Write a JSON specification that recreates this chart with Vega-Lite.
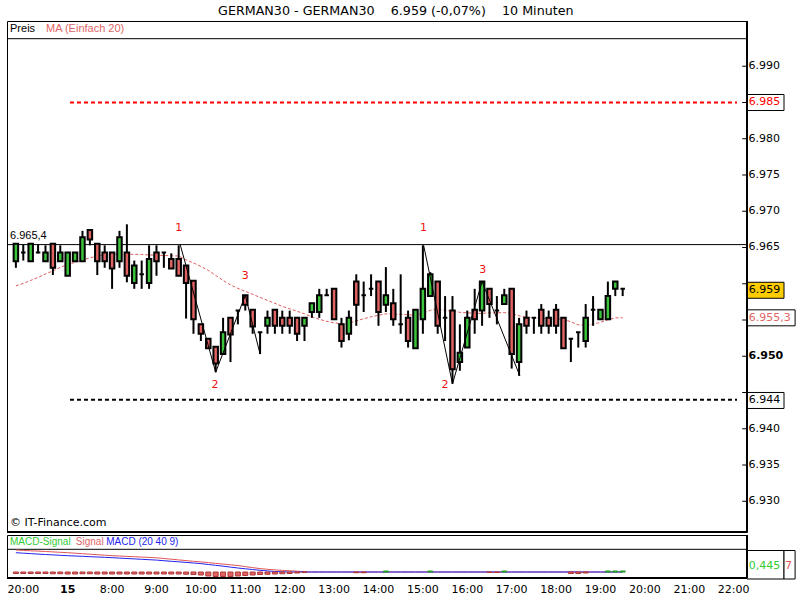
{
  "$schema": "https://vega.github.io/schema/vega-lite/v6.json",
  "padding": {"left": 5, "top": 4, "right": 0, "bottom": 0},
  "background": "white",
  "title": {"text": "GERMAN30 - GERMAN30\u00a0\u00a0\u00a0\u00a06.959 (-0,07%)\u00a0\u00a0\u00a0\u00a010 Minuten", "font": "DejaVu Sans", "fontSize": 12.7, "fontWeight": "normal", "anchor": "middle", "offset": 2, "dx": -5, "color": "black"},
  "datasets": {
    "candles": [
      {"i":0,"o":6963.1,"h":6965.5,"l":6962.2,"c":6965.5,"ma":6959.7},
      {"i":1,"o":6964.3,"h":6965.4,"l":6963.2,"c":6964.3,"ma":6960.05},
      {"i":2,"o":6963.1,"h":6965.5,"l":6963.1,"c":6965.5,"ma":6960.46},
      {"i":3,"o":6964.3,"h":6965.4,"l":6964.2,"c":6964.3,"ma":6960.87},
      {"i":4,"o":6963.1,"h":6965.3,"l":6963.1,"c":6964.3,"ma":6961.35},
      {"i":5,"o":6965.5,"h":6965.5,"l":6961.2,"c":6962.2,"ma":6961.77},
      {"i":6,"o":6963.1,"h":6965.3,"l":6963.1,"c":6964.3,"ma":6962.25},
      {"i":7,"o":6961.1,"h":6964.3,"l":6961.1,"c":6964.3,"ma":6962.66},
      {"i":8,"o":6963.1,"h":6964.3,"l":6963.1,"c":6964.3,"ma":6962.94},
      {"i":9,"o":6963.1,"h":6967.3,"l":6963.1,"c":6966.4,"ma":6963.28},
      {"i":10,"o":6967.4,"h":6967.4,"l":6965.3,"c":6966.1,"ma":6963.56},
      {"i":11,"o":6965.5,"h":6965.5,"l":6961.2,"c":6963.1,"ma":6963.83},
      {"i":12,"o":6964.3,"h":6965.3,"l":6962.2,"c":6963.1,"ma":6963.97},
      {"i":13,"o":6964.3,"h":6964.3,"l":6959.3,"c":6962.1,"ma":6964.06},
      {"i":14,"o":6963.1,"h":6967.3,"l":6962.2,"c":6966.4,"ma":6964.06},
      {"i":15,"o":6964.3,"h":6968.2,"l":6960.2,"c":6961.1,"ma":6964.06},
      {"i":16,"o":6960.1,"h":6963.2,"l":6959.3,"c":6962.5,"ma":6964.06},
      {"i":17,"o":6961.3,"h":6963.2,"l":6959.3,"c":6961.3,"ma":6964.04},
      {"i":18,"o":6960.1,"h":6965.3,"l":6959.3,"c":6963.4,"ma":6963.97},
      {"i":19,"o":6964.3,"h":6965.3,"l":6961.1,"c":6963.1,"ma":6963.93},
      {"i":20,"o":6964.3,"h":6964.3,"l":6962.2,"c":6964.3,"ma":6963.9},
      {"i":21,"o":6963.4,"h":6964.2,"l":6962.1,"c":6962.1,"ma":6963.86},
      {"i":22,"o":6963.4,"h":6965.3,"l":6961.1,"c":6961.1,"ma":6963.83},
      {"i":23,"o":6962.5,"h":6962.5,"l":6955.2,"c":6960.1,"ma":6963.28},
      {"i":24,"o":6960.4,"h":6960.4,"l":6953.1,"c":6955.1,"ma":6962.87},
      {"i":25,"o":6954.4,"h":6954.4,"l":6952.1,"c":6953.1,"ma":6962.39},
      {"i":26,"o":6952.4,"h":6952.4,"l":6951.1,"c":6951.1,"ma":6961.84},
      {"i":27,"o":6951.3,"h":6951.3,"l":6947.8,"c":6949.0,"ma":6961.15},
      {"i":28,"o":6950.3,"h":6955.3,"l":6950.3,"c":6953.3,"ma":6960.46},
      {"i":29,"o":6955.3,"h":6955.3,"l":6949.2,"c":6953.0,"ma":6959.84},
      {"i":30,"o":6956.3,"h":6956.3,"l":6954.4,"c":6956.3,"ma":6959.36},
      {"i":31,"o":6958.4,"h":6958.4,"l":6956.3,"c":6957.1,"ma":6958.95},
      {"i":32,"o":6956.4,"h":6956.4,"l":6953.1,"c":6954.1,"ma":6958.54},
      {"i":33,"o":6953.3,"h":6953.3,"l":6950.3,"c":6953.3,"ma":6958.12},
      {"i":34,"o":6954.2,"h":6956.3,"l":6953.1,"c":6955.3,"ma":6957.71},
      {"i":35,"o":6956.4,"h":6956.4,"l":6953.1,"c":6954.2,"ma":6957.3},
      {"i":36,"o":6955.3,"h":6956.3,"l":6953.1,"c":6954.2,"ma":6956.88},
      {"i":37,"o":6955.3,"h":6956.3,"l":6953.1,"c":6954.2,"ma":6956.54},
      {"i":38,"o":6955.3,"h":6955.3,"l":6952.1,"c":6953.1,"ma":6956.2},
      {"i":39,"o":6954.2,"h":6955.3,"l":6952.1,"c":6955.3,"ma":6955.85},
      {"i":40,"o":6956.1,"h":6957.3,"l":6955.3,"c":6957.3,"ma":6955.44},
      {"i":41,"o":6956.1,"h":6959.3,"l":6955.3,"c":6958.4,"ma":6955.1},
      {"i":42,"o":6958.4,"h":6959.3,"l":6958.4,"c":6958.4,"ma":6954.82},
      {"i":43,"o":6959.3,"h":6959.3,"l":6955.1,"c":6955.1,"ma":6954.61},
      {"i":44,"o":6954.4,"h":6955.3,"l":6951.2,"c":6952.1,"ma":6954.48},
      {"i":45,"o":6953.1,"h":6956.3,"l":6952.2,"c":6955.3,"ma":6954.55},
      {"i":46,"o":6960.3,"h":6961.3,"l":6954.2,"c":6957.1,"ma":6954.89},
      {"i":47,"o":6958.4,"h":6960.3,"l":6956.1,"c":6958.4,"ma":6955.17},
      {"i":48,"o":6959.3,"h":6961.3,"l":6958.3,"c":6959.3,"ma":6955.44},
      {"i":49,"o":6960.3,"h":6960.3,"l":6954.2,"c":6956.1,"ma":6955.65},
      {"i":50,"o":6957.1,"h":6962.3,"l":6956.1,"c":6958.4,"ma":6955.85},
      {"i":51,"o":6957.3,"h":6959.3,"l":6954.2,"c":6955.1,"ma":6955.85},
      {"i":52,"o":6954.4,"h":6961.3,"l":6953.1,"c":6954.4,"ma":6955.78},
      {"i":53,"o":6955.3,"h":6956.3,"l":6951.2,"c":6952.1,"ma":6955.72},
      {"i":54,"o":6951.1,"h":6956.4,"l":6951.1,"c":6956.4,"ma":6955.65},
      {"i":55,"o":6955.1,"h":6965.3,"l":6953.1,"c":6959.3,"ma":6955.92},
      {"i":56,"o":6958.3,"h":6961.6,"l":6958.3,"c":6961.3,"ma":6956.33},
      {"i":57,"o":6960.3,"h":6960.3,"l":6953.1,"c":6954.2,"ma":6956.47},
      {"i":58,"o":6955.3,"h":6958.3,"l":6952.1,"c":6955.3,"ma":6956.33},
      {"i":59,"o":6956.3,"h":6958.3,"l":6946.2,"c":6948.2,"ma":6956.2},
      {"i":60,"o":6949.2,"h":6954.4,"l":6948.0,"c":6950.5,"ma":6956.06},
      {"i":61,"o":6951.2,"h":6956.3,"l":6951.2,"c":6955.3,"ma":6955.99},
      {"i":62,"o":6956.4,"h":6959.3,"l":6953.1,"c":6955.1,"ma":6955.92},
      {"i":63,"o":6956.3,"h":6960.3,"l":6954.2,"c":6960.3,"ma":6955.92},
      {"i":64,"o":6959.3,"h":6959.3,"l":6955.3,"c":6957.2,"ma":6955.99},
      {"i":65,"o":6956.3,"h":6958.3,"l":6954.4,"c":6956.3,"ma":6955.99},
      {"i":66,"o":6957.2,"h":6959.3,"l":6957.2,"c":6958.4,"ma":6956.02},
      {"i":67,"o":6959.3,"h":6959.3,"l":6948.3,"c":6950.3,"ma":6955.92},
      {"i":68,"o":6949.2,"h":6955.3,"l":6947.3,"c":6954.4,"ma":6955.58},
      {"i":69,"o":6955.3,"h":6956.3,"l":6953.1,"c":6954.2,"ma":6955.37},
      {"i":70,"o":6955.3,"h":6955.3,"l":6953.1,"c":6955.3,"ma":6955.3},
      {"i":71,"o":6956.4,"h":6957.2,"l":6953.1,"c":6954.2,"ma":6955.23},
      {"i":72,"o":6955.3,"h":6956.3,"l":6953.1,"c":6954.2,"ma":6955.17},
      {"i":73,"o":6956.4,"h":6957.2,"l":6953.1,"c":6954.2,"ma":6955.17},
      {"i":74,"o":6955.3,"h":6955.3,"l":6951.1,"c":6951.1,"ma":6955.1},
      {"i":75,"o":6952.4,"h":6952.4,"l":6949.2,"c":6952.4,"ma":6954.75},
      {"i":76,"o":6953.3,"h":6953.3,"l":6951.2,"c":6953.3,"ma":6954.34},
      {"i":77,"o":6952.1,"h":6957.2,"l":6951.2,"c":6955.3,"ma":6954.27},
      {"i":78,"o":6956.4,"h":6958.3,"l":6954.2,"c":6956.4,"ma":6954.41},
      {"i":79,"o":6955.1,"h":6956.4,"l":6955.1,"c":6956.4,"ma":6954.68},
      {"i":80,"o":6955.1,"h":6960.3,"l":6955.1,"c":6958.3,"ma":6955.03},
      {"i":81,"o":6959.3,"h":6960.3,"l":6958.3,"c":6960.3,"ma":6955.3},
      {"i":82,"o":6959.3,"h":6959.3,"l":6958.3,"c":6959.3,"ma":6955.3}
    ],
    "macd": [
      {"i":0,"macd":3.86,"sig":4.4,"hist":-0.3},
      {"i":1,"macd":3.76,"sig":4.32,"hist":-0.3},
      {"i":2,"macd":3.68,"sig":4.24,"hist":-0.3},
      {"i":3,"macd":3.58,"sig":4.18,"hist":-0.3},
      {"i":4,"macd":3.5,"sig":4.1,"hist":-0.3},
      {"i":5,"macd":3.42,"sig":4.02,"hist":-0.35},
      {"i":6,"macd":3.34,"sig":3.94,"hist":-0.35},
      {"i":7,"macd":3.26,"sig":3.86,"hist":-0.4},
      {"i":8,"macd":3.2,"sig":3.76,"hist":-0.4},
      {"i":9,"macd":3.14,"sig":3.66,"hist":-0.35},
      {"i":10,"macd":3.06,"sig":3.56,"hist":-0.35},
      {"i":11,"macd":3.0,"sig":3.46,"hist":-0.4},
      {"i":12,"macd":2.94,"sig":3.36,"hist":-0.4},
      {"i":13,"macd":2.86,"sig":3.26,"hist":-0.4},
      {"i":14,"macd":2.78,"sig":3.2,"hist":-0.4},
      {"i":15,"macd":2.7,"sig":3.12,"hist":-0.4},
      {"i":16,"macd":2.62,"sig":3.06,"hist":-0.4},
      {"i":17,"macd":2.54,"sig":2.98,"hist":-0.4},
      {"i":18,"macd":2.46,"sig":2.92,"hist":-0.4},
      {"i":19,"macd":2.38,"sig":2.84,"hist":-0.4},
      {"i":20,"macd":2.26,"sig":2.7,"hist":-0.4},
      {"i":21,"macd":2.14,"sig":2.56,"hist":-0.4},
      {"i":22,"macd":2.04,"sig":2.42,"hist":-0.4},
      {"i":23,"macd":1.92,"sig":2.28,"hist":-0.45},
      {"i":24,"macd":1.8,"sig":2.14,"hist":-0.5},
      {"i":25,"macd":1.68,"sig":2.02,"hist":-0.6},
      {"i":26,"macd":1.5,"sig":1.88,"hist":-0.8},
      {"i":27,"macd":1.34,"sig":1.72,"hist":-0.9},
      {"i":28,"macd":1.16,"sig":1.58,"hist":-0.9},
      {"i":29,"macd":0.98,"sig":1.44,"hist":-0.9},
      {"i":30,"macd":0.8,"sig":1.3,"hist":-0.8},
      {"i":31,"macd":0.64,"sig":1.08,"hist":-0.7},
      {"i":32,"macd":0.5,"sig":0.88,"hist":-0.6},
      {"i":33,"macd":0.34,"sig":0.68,"hist":-0.5},
      {"i":34,"macd":0.22,"sig":0.54,"hist":-0.45},
      {"i":35,"macd":0.1,"sig":0.42,"hist":-0.4},
      {"i":36,"macd":0.04,"sig":0.32,"hist":-0.35},
      {"i":37,"macd":0.0,"sig":0.26,"hist":-0.3},
      {"i":38,"macd":0.0,"sig":0.16,"hist":-0.2},
      {"i":39,"macd":0.0,"sig":0.06,"hist":-0.1},
      {"i":40,"macd":0.0,"sig":0.0,"hist":0},
      {"i":41,"macd":0.0,"sig":0.0,"hist":0},
      {"i":42,"macd":0.0,"sig":0.0,"hist":0},
      {"i":43,"macd":0.0,"sig":0.0,"hist":0},
      {"i":44,"macd":0.0,"sig":0.0,"hist":0},
      {"i":45,"macd":0.0,"sig":0.0,"hist":0},
      {"i":46,"macd":0.0,"sig":0.0,"hist":-0.15},
      {"i":47,"macd":0.0,"sig":0.0,"hist":-0.15},
      {"i":48,"macd":0.0,"sig":0.0,"hist":0},
      {"i":49,"macd":0.0,"sig":0.0,"hist":0},
      {"i":50,"macd":0.0,"sig":0.0,"hist":0.2},
      {"i":51,"macd":0.0,"sig":0.0,"hist":0},
      {"i":52,"macd":0.0,"sig":0.0,"hist":0},
      {"i":53,"macd":0.0,"sig":0.0,"hist":0},
      {"i":54,"macd":0.0,"sig":0.0,"hist":0},
      {"i":55,"macd":0.0,"sig":0.0,"hist":0},
      {"i":56,"macd":0.0,"sig":0.0,"hist":0.2},
      {"i":57,"macd":0.0,"sig":0.0,"hist":0},
      {"i":58,"macd":0.0,"sig":0.0,"hist":0},
      {"i":59,"macd":0.0,"sig":0.0,"hist":0},
      {"i":60,"macd":0.0,"sig":0.0,"hist":0},
      {"i":61,"macd":0.0,"sig":0.0,"hist":0},
      {"i":62,"macd":0.0,"sig":0.0,"hist":0},
      {"i":63,"macd":0.0,"sig":0.0,"hist":0},
      {"i":64,"macd":0.0,"sig":0.0,"hist":-0.1},
      {"i":65,"macd":0.0,"sig":0.0,"hist":-0.1},
      {"i":66,"macd":0.0,"sig":0.0,"hist":0.2},
      {"i":67,"macd":0.0,"sig":0.0,"hist":0},
      {"i":68,"macd":0.0,"sig":0.0,"hist":0},
      {"i":69,"macd":0.0,"sig":0.0,"hist":0},
      {"i":70,"macd":0.0,"sig":0.0,"hist":0},
      {"i":71,"macd":0.0,"sig":0.0,"hist":0},
      {"i":72,"macd":0.0,"sig":0.0,"hist":0},
      {"i":73,"macd":0.0,"sig":0.0,"hist":0},
      {"i":74,"macd":0.0,"sig":0.0,"hist":0},
      {"i":75,"macd":0.0,"sig":0.0,"hist":-0.3},
      {"i":76,"macd":0.0,"sig":0.0,"hist":-0.3},
      {"i":77,"macd":0.0,"sig":0.0,"hist":-0.2},
      {"i":78,"macd":0.0,"sig":0.0,"hist":0},
      {"i":79,"macd":0.0,"sig":0.0,"hist":0},
      {"i":80,"macd":0.0,"sig":0.0,"hist":0.2},
      {"i":81,"macd":0.0,"sig":0.0,"hist":0.2},
      {"i":82,"macd":0.0,"sig":0.0,"hist":0.2}
    ],
    "waves": [
      {"w":"A","i":22.2,"p":6965.4},{"w":"A","i":27.0,"p":6947.8},{"w":"A","i":31.0,"p":6958.4},{"w":"A","i":33.0,"p":6950.3},
      {"w":"B","i":55.1,"p":6965.3},{"w":"B","i":59.0,"p":6946.2},{"w":"B","i":63.0,"p":6960.3},{"w":"B","i":68.1,"p":6947.3}
    ],
    "wlabels": [
      {"t":"1","i":22.0,"p":6967.7},{"t":"2","i":26.9,"p":6946.1},{"t":"3","i":31.0,"p":6961.1},
      {"t":"1","i":55.1,"p":6967.7},{"t":"2","i":58.0,"p":6946.1},{"t":"3","i":63.1,"p":6961.9}
    ],
    "tags": [
      {"label":"6.985","p":6985,"kind":"target"},
      {"label":"6.959","p":6959.1,"kind":"last"},
      {"label":"6.944","p":6943.9,"kind":"stop"}
    ],
    "yticks": [
      {"p":6930,"label":"6.930"},{"p":6935,"label":"6.935"},{"p":6940,"label":"6.940"},{"p":6945,"label":"6.945"},
      {"p":6950,"label":"6.950"},{"p":6955,"label":"6.955"},{"p":6960,"label":"6.960"},{"p":6965,"label":"6.965"},
      {"p":6970,"label":"6.970"},{"p":6975,"label":"6.975"},{"p":6980,"label":"6.980"},{"p":6985,"label":"6.985"},{"p":6990,"label":"6.990"}
    ],
    "xticks": [
      {"i":1,"label":"20:00"},{"i":7,"label":"15"},{"i":13,"label":"8:00"},{"i":19,"label":"9:00"},{"i":25,"label":"10:00"},
      {"i":31,"label":"11:00"},{"i":37,"label":"12:00"},{"i":43,"label":"13:00"},{"i":49,"label":"14:00"},{"i":55,"label":"15:00"},
      {"i":61,"label":"16:00"},{"i":67,"label":"17:00"},{"i":73,"label":"18:00"},{"i":79,"label":"19:00"},{"i":85,"label":"20:00"},
      {"i":91,"label":"21:00"},{"i":97,"label":"22:00"}
    ]
  },
  "spacing": -1,
  "resolve": {"scale": {"x": "independent", "y": "independent"}},
  "vconcat": [
    {
      "width": 740,
      "height": 511,
      "layer": [
        {
          "data": {"values": [{"p": 6993.8}, {"p": 6965.4}]},
          "mark": {"type": "rule", "color": "black", "strokeWidth": 1},
          "encoding": {
            "y": {"field": "p", "type": "quantitative",
                  "scale": {"domain": [6925.76, 6996.24], "nice": false, "zero": false, "padding": 0}, "axis": null}
          }
        },
        {
          "data": {"name": "yticks"},
          "mark": {"type": "rule", "color": "black", "strokeWidth": 1},
          "encoding": {
            "x": {"datum": 98.15, "type": "quantitative", "axis": null},
            "x2": {"datum": 98.8},
            "y": {"field": "p", "type": "quantitative", "axis": null}
          }
        },
        {
          "data": {"name": "yticks"},
          "transform": [{"filter": "datum.p != 6950 && datum.p != 6945 && datum.p != 6955 && datum.p != 6960"}],
          "mark": {"type": "text", "color": "black", "font": "DejaVu Sans", "fontSize": 11, "align": "left", "baseline": "middle"},
          "encoding": {
            "x": {"datum": 99.0, "type": "quantitative", "axis": null},
            "y": {"field": "p", "type": "quantitative", "axis": null},
            "text": {"field": "label"}
          }
        },
        {
          "data": {"name": "yticks"},
          "transform": [{"filter": "datum.p == 6950"}],
          "mark": {"type": "text", "color": "black", "font": "DejaVu Sans", "fontSize": 11, "fontWeight": "bold", "align": "left", "baseline": "middle"},
          "encoding": {"x": {"datum": 99.0, "axis": null}, "y": {"field": "p", "type": "quantitative", "axis": null}, "text": {"field": "label"}}
        },
        {
          "data": {"values": [{"p": 6985, "kind": "target"}, {"p": 6944, "kind": "stop"}]},
          "mark": {"type": "rule", "strokeWidth": 2, "strokeDash": [4, 3]},
          "encoding": {
            "x": {"datum": 7.31, "type": "quantitative", "axis": null},
            "x2": {"datum": 97.45},
            "y": {"field": "p", "type": "quantitative", "axis": null},
            "color": {"field": "kind", "type": "nominal", "scale": {"domain": ["target", "last", "stop"], "range": ["#ff0000", "#000000", "#000000"]}, "legend": null}
          }
        },
        {
          "data": {"name": "candles"},
          "mark": {"type": "line", "color": "#e05a5a", "strokeWidth": 1, "strokeDash": [3, 2]},
          "encoding": {
            "x": {"field": "i", "type": "quantitative", "scale": {"domain": [-1.2, 98.8], "nice": false, "zero": false, "padding": 0}, "axis": null},
            "y": {"field": "ma", "type": "quantitative", "axis": null}
          }
        },
        {
          "data": {"name": "candles"},
          "mark": {"type": "rule", "color": "black", "strokeWidth": 2},
          "encoding": {
            "x": {"field": "i", "type": "quantitative", "axis": null},
            "y": {"field": "l", "type": "quantitative", "axis": null},
            "y2": {"field": "h"}
          }
        },
        {
          "data": {"name": "candles"},
          "mark": {"type": "bar", "orient": "vertical", "size": 4.5, "stroke": "black", "strokeWidth": 2},
          "encoding": {
            "x": {"field": "i", "type": "quantitative", "axis": null},
            "y": {"field": "o", "type": "quantitative", "axis": null},
            "y2": {"field": "c"},
            "fill": {"condition": {"test": "datum.c > datum.o", "value": "#3cc43c"}, "value": "#e06262"}
          }
        },
        {
          "data": {"name": "waves"},
          "mark": {"type": "line", "color": "black", "strokeWidth": 1},
          "encoding": {
            "x": {"field": "i", "type": "quantitative", "axis": null},
            "y": {"field": "p", "type": "quantitative", "axis": null},
            "detail": {"field": "w"}
          }
        },
        {
          "data": {"name": "wlabels"},
          "mark": {"type": "text", "color": "#ee1111", "font": "DejaVu Sans", "fontSize": 11, "baseline": "middle", "align": "center"},
          "encoding": {
            "x": {"field": "i", "type": "quantitative", "axis": null},
            "y": {"field": "p", "type": "quantitative", "axis": null},
            "text": {"field": "t"}
          }
        },
        {
          "data": {"values": [{"label": "Preis"}]},
          "mark": {"type": "text", "color": "black", "font": "Liberation Sans", "fontSize": 11, "align": "left", "baseline": "middle"},
          "encoding": {"x": {"datum": -0.79, "axis": null}, "y": {"datum": 6995.07, "axis": null}, "text": {"field": "label"}}
        },
        {
          "data": {"values": [{"label": "MA (Einfach 20)"}]},
          "mark": {"type": "text", "color": "#e06666", "font": "Liberation Sans", "fontSize": 11, "align": "left", "baseline": "middle"},
          "encoding": {"x": {"datum": 4.07, "axis": null}, "y": {"datum": 6995.07, "axis": null}, "text": {"field": "label"}}
        },
        {
          "data": {"values": [{"label": "6.965,4"}]},
          "mark": {"type": "text", "color": "black", "font": "Liberation Sans", "fontSize": 11, "align": "left", "baseline": "middle"},
          "encoding": {"x": {"datum": -0.79, "axis": null}, "y": {"datum": 6966.6, "axis": null}, "text": {"field": "label"}}
        },
        {
          "data": {"values": [{"label": "© IT-Finance.com"}]},
          "mark": {"type": "text", "color": "black", "font": "DejaVu Sans", "fontSize": 11, "align": "left", "baseline": "middle"},
          "encoding": {"x": {"datum": -0.79, "axis": null}, "y": {"datum": 6927.0, "axis": null}, "text": {"field": "label"}}
        },
        {
          "data": {"name": "tags"},
          "mark": {"type": "bar", "orient": "horizontal", "size": 16, "stroke": "black", "strokeWidth": 1},
          "encoding": {
            "x": {"datum": 98.8, "axis": null},
            "x2": {"datum": 103.8},
            "y": {"field": "p", "type": "quantitative", "axis": null},
            "fill": {"field": "kind", "type": "nominal", "scale": {"domain": ["target", "last", "stop"], "range": ["#ffffff", "#ffcc00", "#ffffff"]}, "legend": null}
          }
        },
        {
          "data": {"values": [{"label": "6.955,3", "p": 6955.3}]},
          "mark": {"type": "bar", "orient": "horizontal", "size": 16, "stroke": "black", "strokeWidth": 1, "fill": "white"},
          "encoding": {
            "x": {"datum": 98.8, "axis": null},
            "x2": {"datum": 105.3},
            "y": {"field": "p", "type": "quantitative", "axis": null}
          }
        },
        {
          "data": {"name": "tags"},
          "mark": {"type": "text", "font": "DejaVu Sans", "fontSize": 11, "align": "left", "baseline": "middle"},
          "encoding": {
            "x": {"datum": 99.05, "axis": null},
            "y": {"field": "p", "type": "quantitative", "axis": null},
            "text": {"field": "label"},
            "color": {"field": "kind", "type": "nominal", "scale": {"domain": ["target", "last", "stop"], "range": ["#ff0000", "#000000", "#000000"]}, "legend": null}
          }
        },
        {
          "data": {"values": [{"label": "6.955,3", "p": 6955.3}]},
          "mark": {"type": "text", "font": "DejaVu Sans", "fontSize": 11, "align": "left", "baseline": "middle", "color": "#e06666"},
          "encoding": {
            "x": {"datum": 99.05, "axis": null},
            "y": {"field": "p", "type": "quantitative", "axis": null},
            "text": {"field": "label"}
          }
        },
        {
          "data": {"values": [{"edge": "right"}]},
          "mark": {"type": "rule", "color": "black", "strokeWidth": 2},
          "encoding": {"x": {"datum": 98.8, "axis": null}}
        },
        {
          "data": {"values": [{"edge": "bottom"}]},
          "mark": {"type": "rule", "color": "black", "strokeWidth": 2},
          "encoding": {"y": {"datum": 6925.76, "axis": null}}
        }
      ]
    },
    {
      "width": 740,
      "height": 43,
      "layer": [
        {
          "data": {"values": [{"v": 4.54}]},
          "mark": {"type": "rule", "color": "black", "strokeWidth": 1},
          "encoding": {
            "y": {"field": "v", "type": "quantitative", "scale": {"domain": [-1.2, 7.4], "nice": false, "zero": false, "padding": 0}, "axis": null}
          }
        },
        {
          "data": {"name": "macd"},
          "mark": {"type": "line", "color": "#e05555", "strokeWidth": 1},
          "encoding": {
            "x": {"field": "i", "type": "quantitative", "scale": {"domain": [-1.2, 98.8], "nice": false, "zero": false, "padding": 0}, "axis": null},
            "y": {"field": "sig", "type": "quantitative", "axis": null}
          }
        },
        {
          "data": {"name": "macd"},
          "mark": {"type": "line", "color": "#2222ee", "strokeWidth": 1},
          "encoding": {
            "x": {"field": "i", "type": "quantitative", "axis": null},
            "y": {"field": "macd", "type": "quantitative", "axis": null}
          }
        },
        {
          "data": {"name": "macd"},
          "transform": [{"filter": "datum.hist != 0"}],
          "mark": {"type": "bar", "orient": "vertical", "size": 5, "strokeWidth": 1},
          "encoding": {
            "x": {"field": "i", "type": "quantitative", "axis": null},
            "y": {"field": "hist", "type": "quantitative", "axis": null},
            "y2": {"datum": 0},
            "fill": {"condition": {"test": "datum.hist > 0", "value": "#33cc33"}, "value": "#e06262"},
            "stroke": {"condition": {"test": "datum.hist > 0", "value": "#229922"}, "value": "#b03838"}
          }
        },
        {
          "data": {"values": [{"label": "MACD-Signal"}]},
          "mark": {"type": "text", "color": "#33cc33", "font": "Liberation Sans", "fontSize": 10, "align": "left", "baseline": "middle"},
          "encoding": {"x": {"datum": -0.79, "axis": null}, "y": {"datum": 6.0, "axis": null}, "text": {"field": "label"}}
        },
        {
          "data": {"values": [{"label": "Signal"}]},
          "mark": {"type": "text", "color": "#e06666", "font": "Liberation Sans", "fontSize": 10, "align": "left", "baseline": "middle"},
          "encoding": {"x": {"datum": 8.1, "axis": null}, "y": {"datum": 6.0, "axis": null}, "text": {"field": "label"}}
        },
        {
          "data": {"values": [{"label": "MACD (20 40 9)"}]},
          "mark": {"type": "text", "color": "#2222ee", "font": "Liberation Sans", "fontSize": 10, "align": "left", "baseline": "middle"},
          "encoding": {"x": {"datum": 12.2, "axis": null}, "y": {"datum": 6.0, "axis": null}, "text": {"field": "label"}}
        },
        {
          "data": {"name": "xticks"},
          "transform": [{"filter": "datum.i != 7"}],
          "mark": {"type": "text", "color": "black", "font": "DejaVu Sans", "fontSize": 11, "align": "center", "baseline": "top"},
          "encoding": {"x": {"field": "i", "type": "quantitative", "axis": null}, "y": {"datum": -2.4, "axis": null}, "text": {"field": "label"}}
        },
        {
          "data": {"name": "xticks"},
          "transform": [{"filter": "datum.i == 7"}],
          "mark": {"type": "text", "color": "black", "font": "DejaVu Sans", "fontSize": 11, "fontWeight": "bold", "align": "center", "baseline": "top"},
          "encoding": {"x": {"field": "i", "type": "quantitative", "axis": null}, "y": {"datum": -2.4, "axis": null}, "text": {"field": "label"}}
        },
        {
          "data": {"values": [{"a": 98.8, "b": 103.8}, {"a": 103.8, "b": 105.3}]},
          "mark": {"type": "rect", "fill": "white", "stroke": "black", "strokeWidth": 1},
          "encoding": {
            "x": {"field": "a", "type": "quantitative", "axis": null},
            "x2": {"field": "b"},
            "y": {"datum": 4.3, "axis": null},
            "y2": {"datum": -1.4}
          }
        },
        {
          "data": {"values": [{"label": "0,445"}]},
          "mark": {"type": "text", "color": "#33cc33", "font": "DejaVu Sans", "fontSize": 11, "align": "left", "baseline": "middle"},
          "encoding": {"x": {"datum": 99.05, "axis": null}, "y": {"datum": 1.3, "axis": null}, "text": {"field": "label"}}
        },
        {
          "data": {"values": [{"label": "7"}]},
          "mark": {"type": "text", "color": "#e05555", "font": "DejaVu Sans", "fontSize": 11, "align": "left", "baseline": "middle"},
          "encoding": {"x": {"datum": 103.95, "axis": null}, "y": {"datum": 1.3, "axis": null}, "text": {"field": "label"}}
        },
        {
          "data": {"values": [{"edge": "right"}]},
          "mark": {"type": "rule", "color": "black", "strokeWidth": 2},
          "encoding": {"x": {"datum": 98.8, "axis": null}}
        },
        {
          "data": {"values": [{"edge": "bottom"}]},
          "mark": {"type": "rule", "color": "black", "strokeWidth": 2},
          "encoding": {"y": {"datum": -1.2, "axis": null}}
        }
      ]
    }
  ],
  "config": {
    "view": {"stroke": "black", "strokeWidth": 1},
    "scale": {"continuousPadding": 0},
    "text": {"font": "DejaVu Sans", "fontSize": 11}
  }
}
